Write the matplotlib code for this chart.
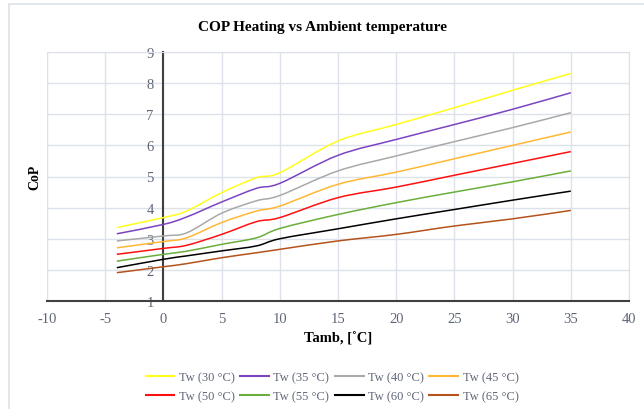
import numpy as np
import matplotlib
matplotlib.use("Agg")
import matplotlib.pyplot as plt
from matplotlib.path import Path
from matplotlib.patches import PathPatch, Rectangle
from matplotlib.lines import Line2D

# --- data ---
tamb = [-4, 0, 2, 5, 8, 10, 15, 20, 25, 30, 35]

tw30 = [3.36, 3.68, 3.89, 4.48, 4.96, 5.12, 6.14, 6.67, 7.21, 7.77, 8.31]
tw35 = [3.16, 3.46, 3.70, 4.18, 4.62, 4.78, 5.68, 6.19, 6.67, 7.16, 7.69]
tw40 = [2.93, 3.09, 3.19, 3.82, 4.22, 4.39, 5.18, 5.66, 6.12, 6.57, 7.05]
tw45 = [2.71, 2.91, 3.03, 3.52, 3.89, 4.05, 4.75, 5.14, 5.57, 6.00, 6.43]
tw50 = [2.50, 2.69, 2.79, 3.14, 3.55, 3.68, 4.32, 4.66, 5.04, 5.42, 5.80]
tw55 = [2.28, 2.50, 2.60, 2.82, 3.03, 3.33, 3.78, 4.16, 4.50, 4.83, 5.18]
tw60 = [2.07, 2.34, 2.45, 2.61, 2.77, 3.00, 3.32, 3.64, 3.94, 4.24, 4.53]
tw65 = [1.91, 2.10, 2.20, 2.39, 2.55, 2.66, 2.93, 3.14, 3.41, 3.64, 3.91]

labels = ["Tw (30 °C)", "Tw (35 °C)", "Tw (40 °C)", "Tw (45 °C)",
          "Tw (50 °C)", "Tw (55 °C)", "Tw (60 °C)", "Tw (65 °C)"]
series = [tw30, tw35, tw40, tw45, tw50, tw55, tw60, tw65]
colors = ["#ffff1a", "#7b44c0", "#a9a9a9", "#ffb833",
          "#ff1010", "#6aae3c", "#000000", "#b5531b"]


def smooth_path(xs, ys):
    # Excel-style smoothed line: Catmull-Rom segments as cubic Beziers
    pts = np.column_stack([np.asarray(xs, float), np.asarray(ys, float)])
    verts = [pts[0]]
    codes = [Path.MOVETO]
    n = len(pts)
    for i in range(n - 1):
        p0 = pts[i - 1] if i > 0 else pts[i]
        p1 = pts[i]
        p2 = pts[i + 1]
        p3 = pts[i + 2] if i + 2 < n else pts[i + 1]
        c1 = p1 + (p2 - p0) / 6.0
        c2 = p2 - (p3 - p1) / 6.0
        verts += [c1, c2, p2]
        codes += [Path.CURVE4] * 3
    return Path(verts, codes)


plt.rcParams['font.family'] = ['Liberation Serif', 'DejaVu Serif']
plt.rcParams['axes.unicode_minus'] = False

fig = plt.figure(figsize=(6.44, 4.10), dpi=100)
ax = fig.add_axes([47 / 644, 1 - 302 / 410, 582 / 644, 249 / 410])

grid_c = "#dde1ea"
tick_c = "#5f6677"

# outer chart frame
fig.patches.append(Rectangle((9 / 644, -0.1), 1.2, 1 - 5 / 410 + 0.1,
                             transform=fig.transFigure, fill=False,
                             edgecolor=grid_c, lw=1.2))

for ys, c in zip(series, colors):
    ax.add_patch(PathPatch(smooth_path(tamb, ys), fill=False,
                           edgecolor=c, lw=1.1, zorder=3))

ax.set_xlim(-10, 40)
ax.set_ylim(1, 9)
ax.set_xticks(np.arange(-10, 41, 5))
ax.set_yticks(np.arange(1, 10, 1))
ax.grid(True, color=grid_c, lw=1.0)
ax.set_axisbelow(True)

ax.spines['left'].set_position(('data', 0))
ax.spines['left'].set_color("#404040")
ax.spines['left'].set_linewidth(1.5)
ax.spines['bottom'].set_color("#404040")
ax.spines['bottom'].set_linewidth(1.5)
ax.spines['top'].set_color(grid_c)
ax.spines['right'].set_color(grid_c)
ax.axvline(-10, color=grid_c, lw=1.5, zorder=0)

ax.tick_params(axis='both', length=0, labelsize=10.5, colors=tick_c)
ax.tick_params(axis='y', pad=7)
ax.tick_params(axis='x', pad=8)

fig.text(322 / 644, 1 - 27 / 410, "COP Heating vs Ambient temperature",
         ha='center', va='center', fontsize=11, fontweight='bold')
fig.text(35 / 644, 1 - 177 / 410, "CoP", ha='center', va='center',
         rotation=90, fontsize=10, fontweight='bold')
fig.text(338 / 644, 1 - 339 / 410, "Tamb, [˚C]", ha='center', va='center',
         fontsize=10.5, fontweight='bold')

# legend filled row by row (4 per row)
handles = [Line2D([], [], color=c, lw=1.5) for c in colors]
order = [0, 4, 1, 5, 2, 6, 3, 7]
leg = fig.legend([handles[i] for i in order], [labels[i] for i in order],
                 ncol=4, loc='center',
                 bbox_to_anchor=(332 / 644, 1 - 388 / 410),
                 frameon=False, fontsize=9, handlelength=2.3,
                 handletextpad=0.35, columnspacing=0.45, labelspacing=0.6)
for t in leg.get_texts():
    t.set_color(tick_c)

fig.savefig("out.png", dpi=100)
